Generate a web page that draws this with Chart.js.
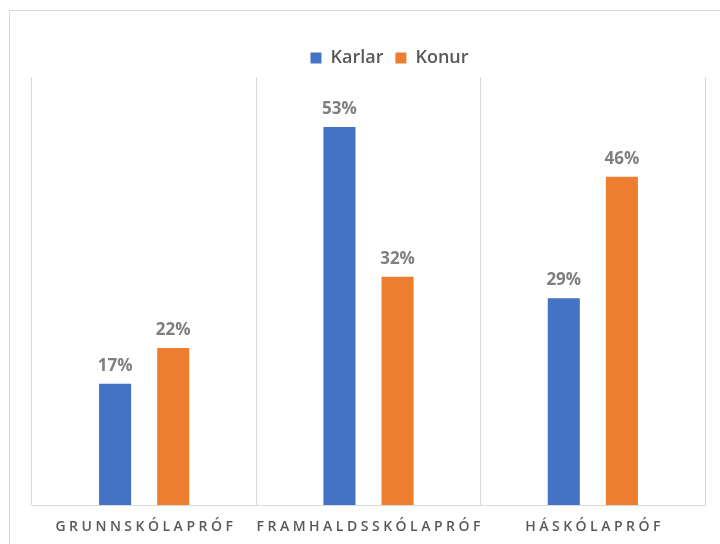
<!DOCTYPE html>
<html>
<head>
<meta charset="utf-8">
<script src="https://cdn.jsdelivr.net/npm/chart.js@4"></script>
<style>
  html, body { margin: 0; padding: 0; background: #fff; }
  #wrap { position: relative; width: 720px; height: 544px; overflow: hidden; }
  #frame { position: absolute; left: 9px; top: 10px; width: 730px; height: 560px; border: 1px solid #d9d9d9; box-sizing: border-box; }
  canvas { position: absolute; left: 0; top: 0; }
</style>
</head>
<body>
<div id="wrap">
  <div id="frame"></div>
  <canvas id="chart" width="720" height="544"></canvas>
</div>
<script>
const categories = ['GRUNNSKÓLAPRÓF', 'FRAMHALDSSKÓLAPRÓF', 'HÁSKÓLAPRÓF'];
const karlar = [17, 53, 29];
const konur = [22, 32, 46];

const FONT = '"Open Sans", "Noto Sans", sans-serif';

// data labels above bars + letter-spaced category labels
const labelPlugin = {
  id: 'labels',
  afterLayout(chart) {
    // legend sits a bit right of the plot centre in the original
    chart.legend.left += 21;
    chart.legend.right += 21;
  },
  afterDatasetsDraw(chart) {
    const ctx = chart.ctx;
    ctx.save();
    ctx.font = 'bold 17px ' + FONT;
    ctx.fillStyle = '#7f7f7f';
    ctx.textAlign = 'center';
    ctx.textBaseline = 'bottom';
    chart.data.datasets.forEach((ds, i) => {
      chart.getDatasetMeta(i).data.forEach((bar, j) => {
        ctx.fillText(ds.data[j] + '%', bar.x, bar.y - 9);
      });
    });

    const x = chart.scales.x;
    ctx.font = '600 14px ' + FONT;
    ctx.fillStyle = '#595959';
    ctx.letterSpacing = '3.5px';
    ctx.textBaseline = 'middle';
    categories.forEach((c, i) => {
      ctx.fillText(c, x.getPixelForValue(i) + 1.75, 527);
    });
    ctx.restore();
  }
};

new Chart(document.getElementById('chart'), {
  type: 'bar',
  data: {
    labels: categories,
    datasets: [
      { label: 'Karlar', data: karlar, backgroundColor: '#4472C4' },
      { label: 'Konur', data: konur, backgroundColor: '#ED7D31' },
    ]
  },
  options: {
    responsive: false,
    animation: false,
    categoryPercentage: 0.518,
    barPercentage: 0.552,
    layout: { padding: { left: 32, right: 15, top: 37, bottom: 39 } },
    plugins: {
      legend: {
        position: 'top',
        labels: {
          color: '#595959',
          font: { family: FONT, size: 18, weight: '600' },
          boxWidth: 11,
          boxHeight: 11,
          padding: 12,
        }
      },
      tooltip: { enabled: false },
    },
    scales: {
      x: {
        ticks: { display: false },
        grid: { offset: true, color: '#d9d9d9', drawTicks: false },
        border: { color: '#d9d9d9' },
      },
      y: {
        display: false,
        min: 0,
        max: 60,
      }
    }
  },
  plugins: [labelPlugin],
});
</script>
</body>
</html>
